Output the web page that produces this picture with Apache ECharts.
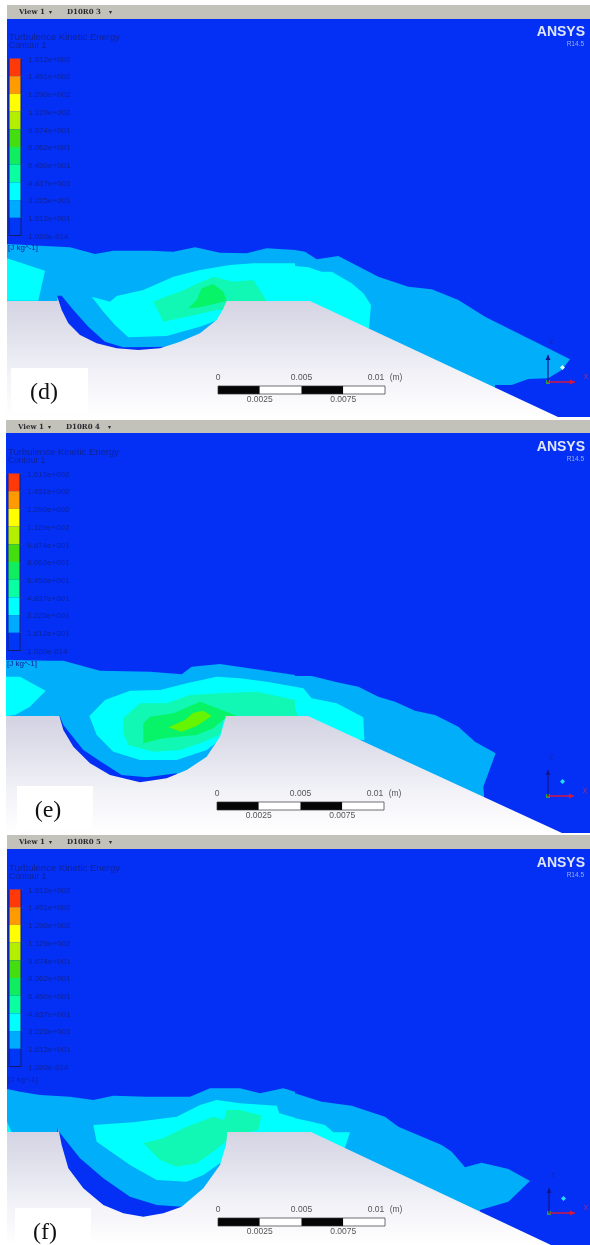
<!DOCTYPE html>
<html><head><meta charset="utf-8">
<style>html,body{margin:0;padding:0;background:#fff}#c{width:590px;height:1245px;filter:blur(0.45px)}</style>
<script src="https://cdn.jsdelivr.net/npm/echarts@6/dist/echarts.min.js"></script>
</head><body><div id="c"></div>
<script>
// ---- data ----
const legendLabels = ['1.612e+002','1.451e+002','1.290e+002','1.129e+002','9.674e+001','8.062e+001','6.450e+001','4.837e+001','3.225e+001','1.612e+001','1.020e-014'];
const legendColors = ['#ff3a08','#ff9a00','#ffff00','#b4ee00','#44dd10','#10ee60','#0affa0','#00ffff','#00aaff','#0036f5'];
const scaleTop = ['0','0.005','0.01'];
const scaleBottom = ['0.0025','0.0075'];
// Contour outlines: [left-half points, right-half points] in 3x crop units
const dLevel3 = [[[21,42],[135,48],[210,52],[285,72],[340,62],[450,62],[520,65],[585,52],[660,68],[740,70],[800,55],[885,60]],
  [[0,60],[30,65],[65,88],[130,78],[250,140],[340,170],[410,178],[490,210],[570,260],[660,305],[740,345],[825,388],[800,420],[760,445],[700,447],[650,465],[600,465],[600,520]],
  [[600,520],[21,520]]];
const dLevel4a = [[[21,85],[135,122],[115,212],[21,212]]];
const dLevel4b = [[[275,200],[330,215],[350,198],[430,180],[520,140],[600,120],[690,105],[760,100],[885,100]],
  [[0,108],[40,112],[80,125],[110,125],[170,160],[205,190],[228,225],[222,295],[10,290]],
  [[660,268],[600,290],[500,318],[385,322],[345,285],[310,245]]];
const dLevel5 = [[[460,215],[510,195],[540,185],[595,160],[640,140],[700,155],[760,150],[800,212],[800,240],[650,240],[560,260],[490,275]]];
const dLevel6 = [[[565,235],[590,210],[605,175],[640,162],[670,185],[680,212],[650,220],[600,232]]];
const dWedge = [[[172,197],[185,197],[220,240],[265,290],[315,335],[370,352],[520,350],[520,390],[250,390],[172,300]]];
const eLevel3 = [[[18,60],[150,62],[190,62],[300,92],[450,95],[545,103],[575,80],[660,72],[885,105]],
  [[0,108],[50,108],[120,125],[190,140],[250,170],[300,185],[360,212],[420,225],[490,260],[540,305],[602,340],[565,440],[567,465],[567,540]],
  [[600,540],[18,540]]];
const eLevel4a = [[[18,110],[60,110],[137,152],[90,200],[45,225],[18,228]]];
const eLevel4b = [[[268,228],[315,180],[390,152],[480,150],[560,130],[650,110],[720,115],[800,125],[885,140]],
  [[0,140],[25,145],[50,175],[125,190],[205,232],[208,300],[10,290]],
  [[660,300],[620,330],[530,360],[420,360],[340,335],[290,285]]];
const eLevel5 = [[[370,235],[420,190],[500,190],[570,165],[660,160],[770,155],[885,180]],
  [[0,205],[12,235]],
  [[670,240],[660,285],[600,310],[540,330],[460,335],[385,315],[370,280]]];
const eLevel6 = [[[430,250],[450,230],[520,220],[600,185],[640,200],[680,215],[710,228],[678,232],[640,265],[590,285],[490,295],[430,310]]];
const eLevel7 = [[[505,262],[555,240],[580,218],[610,212],[635,228],[590,258],[545,275]]];
const eWedge = [[[178,225],[190,255],[250,330],[310,370],[365,405],[440,412],[530,400],[530,450],[178,450]]];
const fLevel3 = [[[21,132],[60,140],[120,150],[210,155],[280,165],[340,152],[440,155],[570,155],[630,130],[720,130],[780,145],[850,130],[885,140]],
  [[0,145],[80,170],[170,182],[270,215],[310,245],[440,300],[470,320],[510,367],[560,353],[640,372],[705,408],[640,470],[555,495],[555,560]],
  [[600,560],[21,560]]];
const fLevel4a = [[[21,230],[35,262],[21,262]]];
const fLevel4b = [[[280,240],[400,232],[530,215],[600,180],[650,165],[720,175],[830,182],[838,205],[885,218]],
  [[0,220],[40,228],[90,240],[115,262],[165,262],[150,308],[10,300]],
  [[660,355],[610,390],[560,410],[470,405],[390,360],[290,290]]];
const fLevel5 = [[[430,295],[490,280],[560,245],[640,215],[672,225],[680,195],[720,195],[785,212],[775,255],[700,270],[640,320],[590,355],[530,365],[480,345]]];
const fWedge = [[[172,250],[178,262],[240,340],[310,400],[390,455],[470,480],[545,485],[545,560],[172,560]]];
const dCavity = [[172,200],[185,240],[205,280],[240,315],[290,340],[350,355],[415,360],[480,355],[540,335],[600,310],[650,270],[668,240],[680,212]];
const eCavity = [[178,228],[190,270],[220,320],[270,370],[330,405],[420,427],[500,415],[560,390],[620,350],[660,290],[678,228]];
const fCavity = [[175,250],[185,300],[205,370],[250,430],[310,480],[370,505],[430,515],[490,505],[545,485],[610,430],[660,360],[678,300],[682,262]];

// ---- styles and layout ----
const BLUE='#0430f6', L3='#00aefa', L4='#00ffff', L5='#10f8b4', L6='#08f468', L7='#66f400', GRAY='#c2c1ba', INK='#0f2399';
const panels = [
 {name:'(d)',view:'D10R0 3',left:7,top:5,blueTop:19,bottom:417,floorY:301,cropY:230,cavity:dCavity,slope:[[310,301],[558,417]],
  layers:[[dLevel3,L3],[dLevel4a,L4],[dLevel4b,L4],[dLevel5,L5],[dLevel6,L6],[dWedge,BLUE]],
  bar:[9,58.5],titleY:37,unitY:248,ansysY:32,scale:[218,386],triad:[548,382,355,575],dot:'#d8fff0',box:[11,368,88,412],boxText:[44,393]},
 {name:'(e)',view:'D10R0 4',left:6,top:420,blueTop:433,bottom:833,floorY:716,cropY:640,cavity:eCavity,slope:[[308,716],[562,833]],
  layers:[[eLevel3,L3],[eLevel4a,L4],[eLevel4b,L4],[eLevel5,L5],[eLevel6,L6],[eLevel7,L7],[eWedge,BLUE]],
  bar:[8,473.5],titleY:452,unitY:664,ansysY:447,scale:[217,802],triad:[548,796,770,574],dot:'#20e0ff',box:[17,786,93,828],boxText:[48,811]},
 {name:'(f)',view:'D10R0 5',left:7,top:835,blueTop:849,bottom:1245,floorY:1132,cropY:1045,cavity:fCavity,slope:[[311,1132],[551,1245]],
  layers:[[fLevel3,L3],[fLevel4a,L4],[fLevel4b,L4],[fLevel5,L5],[fWedge,BLUE]],
  bar:[9,889.5],titleY:868,unitY:1080,ansysY:863,scale:[218,1218],triad:[549,1213,1188,575],dot:'#20e0ff',box:[15,1208,91,1245],boxText:[45,1233]}
];
const polys=[], lines=[], texts=[];
const SANS='"Liberation Sans",Arial,sans-serif';
function T(x,y,s,o){texts.push(Object.assign({x,y,s,color:INK,size:8,align:'left',weight:'normal',font:SANS},o||{}));}
function crop(parts,cropY){
  const out=[];
  parts.forEach((part,i)=>part.forEach(p=>out.push([(i===1?295:0)+p[0]/3,cropY+p[1]/3])));
  return out;
}
panels.forEach(p=>{
  polys.push({pts:[[p.left,p.top],[590,p.top],[590,p.blueTop],[p.left,p.blueTop]],fill:GRAY});
  polys.push({pts:[[p.left,p.blueTop],[590,p.blueTop],[590,p.bottom],[p.left,p.bottom]],fill:BLUE});
  p.layers.forEach(l=>polys.push({pts:crop(l[0],p.cropY),fill:l[1]}));
  const cav=p.cavity.map(c=>[c[0]/3,p.cropY+c[1]/3]);
  polys.push({pts:[[p.left,p.floorY],[cav[0][0],p.floorY]].concat(cav,[[cav[cav.length-1][0],p.floorY]],p.slope,[[p.left,p.bottom]]),
    fill:new echarts.graphic.LinearGradient(0,0,0,1,[{offset:0,color:'#d2d2e2'},{offset:0.65,color:'#f2f2f8'},{offset:1,color:'#ffffff'}])});
  // legend bar
  const bx=p.bar[0], by=p.bar[1], step=17.7, bw=12;
  legendColors.forEach((c,i)=>polys.push({pts:[[bx,by+i*step],[bx+bw,by+i*step],[bx+bw,by+(i+1)*step],[bx,by+(i+1)*step]],fill:c}));
  lines.push({pts:[[bx,by],[bx,by+10*step],[bx+15,by+10*step]],color:'#101c70',w:1});
  lines.push({pts:[[bx+bw,by+10*step],[bx+bw,by]],color:'#101c70',w:1});
  legendLabels.forEach((s,i)=>{
    lines.push({pts:[[bx+bw,by+i*step],[bx+15,by+i*step]],color:'#2040a0',w:0.7});
    T(bx+19,by+i*step+1,s);
  });
  T(p.left+2,p.titleY,'Turbulence Kinetic Energy',{size:9.5});
  T(p.left+2,p.titleY+9,'Contour 1',{size:8.5});
  T(p.left+1,p.unitY,'[J kg^-1]');
  // header
  T(p.left+12,p.top+7,'View 1',{size:7,weight:'bold',color:'#2a2a30',font:'"DejaVu Serif",serif'});
  T(p.left+42,p.top+7,'▾',{size:6,color:'#2a2a30'});
  T(p.left+60,p.top+7,p.view,{size:7,weight:'bold',color:'#2a2a30',font:'"DejaVu Serif",serif'});
  T(p.left+102,p.top+7,'▾',{size:6,color:'#2a2a30'});
  // logo
  T(585,p.ansysY,'ANSYS',{size:14,weight:'bold',color:'#dfe6fb',align:'right'});
  T(584,p.ansysY+12,'R14.5',{size:6.5,color:'#9cb0f4',align:'right'});
  // scale bar
  const sx=p.scale[0], sy=p.scale[1], sw=41.75, sh=8;
  [0,1,2,3].forEach(i=>polys.push({pts:[[sx+i*sw,sy],[sx+(i+1)*sw,sy],[sx+(i+1)*sw,sy+sh],[sx+i*sw,sy+sh]],fill:i%2?'#ffffff':'#050505'}));
  lines.push({pts:[[sx,sy],[sx+4*sw,sy],[sx+4*sw,sy+sh],[sx,sy+sh],[sx,sy]],color:'#333',w:0.7});
  const G={color:'#555',size:8.5,align:'center'};
  scaleTop.forEach((s,i)=>T(sx+i*2*sw-(i===2?9:0),sy-8,s,G));
  T(sx+4*sw+11,sy-8,'(m)',G);
  scaleBottom.forEach((s,i)=>T(sx+(2*i+1)*sw,sy+14,s,G));
  // triad
  const t=p.triad;
  lines.push({pts:[[t[0],t[1]],[t[0],t[2]]],color:'#14148c',w:1.2});
  lines.push({pts:[[t[0],t[1]],[t[3],t[1]]],color:'#d01840',w:1.5});
  polys.push({pts:[[t[0]-2.5,t[2]+5],[t[0],t[2]],[t[0]+2.5,t[2]+5]],fill:'#14148c'});
  polys.push({pts:[[t[3]-5,t[1]-2.5],[t[3],t[1]],[t[3]-5,t[1]+2.5]],fill:'#d01840'});
  polys.push({pts:[[t[0]-2,t[1]-2],[t[0]+2,t[1]-2],[t[0]+2,t[1]+2],[t[0]-2,t[1]+2]],fill:'#2a9a50'});
  polys.push({pts:[[t[0]+14.5,t[1]-17],[t[0]+17,t[1]-14.5],[t[0]+14.5,t[1]-12],[t[0]+12,t[1]-14.5]],fill:p.dot});
  T(t[0]+4,t[2]-13,'Z',{size:7,color:'#1226b0',align:'center'});
  T(t[3]+11,t[1]-5,'X',{size:7,color:'#b02a70',align:'center'});
  // panel label
  const b=p.box;
  polys.push({pts:[[b[0],b[1]],[b[2],b[1]],[b[2],b[3]],[b[0],b[3]]],fill:'#ffffff'});
  T(p.boxText[0],p.boxText[1],p.name,{size:24,color:'#111',align:'center',font:'"Liberation Serif","Times New Roman",serif'});
});

const chart=echarts.init(document.getElementById('c'),null,{renderer:'canvas'});
const hiddenAxis={type:'value',show:false,scale:true};
chart.setOption({
  animation:false,backgroundColor:'#ffffff',tooltip:{show:false},
  grid:{left:0,right:0,top:0,bottom:0},
  xAxis:Object.assign({},hiddenAxis,{min:0,max:590}),
  yAxis:Object.assign({},hiddenAxis,{min:0,max:1245,inverse:true}),
  series:[
   {type:'custom',coordinateSystem:'cartesian2d',silent:true,clip:false,z:1,
    data:polys.map((_,i)=>[i]),encode:{x:0,y:0},
    renderItem:(params,api)=>{const d=polys[params.dataIndex];
      return {type:'polygon',shape:{points:d.pts.map(p=>api.coord(p))},style:{fill:d.fill}};}},
   {type:'custom',coordinateSystem:'cartesian2d',silent:true,clip:false,z:2,
    data:lines.map((_,i)=>[i]),encode:{x:0,y:0},
    renderItem:(params,api)=>{const d=lines[params.dataIndex];
      return {type:'polyline',shape:{points:d.pts.map(p=>api.coord(p))},style:{fill:null,stroke:d.color,lineWidth:d.w}};}},
   {type:'custom',coordinateSystem:'cartesian2d',silent:true,clip:false,z:3,
    data:texts.map((_,i)=>[i]),encode:{x:0,y:0},
    renderItem:(params,api)=>{const d=texts[params.dataIndex];const c=api.coord([d.x,d.y]);
      return {type:'text',x:c[0],y:c[1],style:{text:d.s,fill:d.color,fontSize:d.size,fontWeight:d.weight,fontFamily:d.font,
        align:d.align,verticalAlign:'middle'}};}}
  ]
});
</script></body></html>
